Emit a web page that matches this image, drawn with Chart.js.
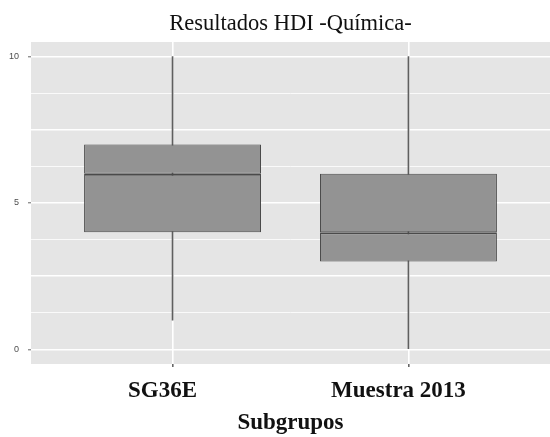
<!DOCTYPE html>
<html>
<head>
<meta charset="utf-8">
<script src="https://cdn.jsdelivr.net/npm/chart.js@4.4.1/dist/chart.umd.min.js"></script>
<style>
  body { margin: 0; background: #fff; }
  #wrap { width: 550px; height: 437px; }
</style>
</head>
<body>
<div id="wrap"><canvas id="chart" width="550" height="437"></canvas></div>
<script>
  // boxplot summary per subgroup
  const categories = ["SG36E", "Muestra 2013"];
  const mins    = [1, 0];
  const q1s     = [4, 3];
  const medians = [6, 4];
  const q3s     = [7, 6];
  const maxs    = [10, 10];

  const yGridValues  = [0, 1.25, 2.5, 3.75, 5, 6.25, 7.5, 8.75, 10];
  const yLabelValues = [0, 5, 10];

  const xPos = categories.map((c, i) => i + 1);

  const panelBg = {
    id: "panelBg",
    beforeDraw(chart) {
      const { ctx, chartArea: a } = chart;
      ctx.save();
      ctx.fillStyle = "#e5e5e5";
      ctx.fillRect(a.left, a.top, a.right - a.left, a.bottom - a.top);
      ctx.restore();
    }
  };

  const boxStyle = {
    backgroundColor: "#939393",
    borderColor: "#4a4a4a",
    borderSkipped: false,
    grouped: false,
    categoryPercentage: 1,
    barPercentage: 0.75
  };

  const chart = new Chart(document.getElementById("chart").getContext("2d"), {
    type: "bar",
    data: {
      datasets: [
        // lower half of box, thicker top edge = median
        { label: "lower", data: xPos.map((x, i) => ({ x: x, y: [q1s[i], medians[i]] })), order: 1, ...boxStyle,
          borderWidth: { top: 2, left: 1, right: 1, bottom: 1 } },
        { label: "upper", data: xPos.map((x, i) => ({ x: x, y: [medians[i], q3s[i]] })), order: 2, ...boxStyle,
          borderWidth: { top: 1, left: 1, right: 1, bottom: 1 } },
        { label: "whisker", data: xPos.map((x, i) => ({ x: x, y: [mins[i], maxs[i]] })), order: 3,
          backgroundColor: "#5f5f5f", borderWidth: 0, barThickness: 1, grouped: false }
      ]
    },
    options: {
      responsive: false,
      animation: false,
      layout: { padding: 0 },
      plugins: {
        legend: { display: false },
        tooltip: { enabled: false },
        title: {
          display: true,
          text: "Resultados HDI -Química-",
          fullSize: false,
          color: "#111",
          font: { family: "'Liberation Serif', 'Times New Roman', serif", size: 22.5, weight: "normal", lineHeight: 1.2 },
          padding: { top: 11, bottom: 4 }
        }
      },
      scales: {
        x: {
          type: "linear",
          min: 0.4,
          max: 2.6,
          offset: false,
          afterFit: s => { s.height = 73; },
          afterBuildTicks: s => { s.ticks = xPos.map(v => ({ value: v })); },
          border: { display: false },
          grid: { offset: false, color: "#ffffff", lineWidth: 1.6, tickColor: "#666", tickLength: 3 },
          ticks: {
            callback: (v, i) => categories[i],
            color: "#111",
            padding: 10,
            labelOffset: -10,
            maxRotation: 0,
            font: { family: "'Liberation Serif', 'Times New Roman', serif", size: 23, weight: "bold" }
          },
          title: {
            display: true,
            text: "Subgrupos",
            color: "#111",
            padding: { top: 2, bottom: 0 },
            font: { family: "'Liberation Serif', 'Times New Roman', serif", size: 23, weight: "bold" }
          }
        },
        y: {
          min: -0.5,
          max: 10.5,
          afterFit: s => { s.width = 31; },
          afterBuildTicks: s => { s.ticks = yGridValues.map(v => ({ value: v })); },
          border: { display: false },
          grid: {
            color: "#ffffff",
            lineWidth: c => (c.tick && c.tick.value % 2.5 === 0) ? 1.6 : 0.8,
            tickColor: c => (c.tick && yLabelValues.includes(c.tick.value)) ? "#666" : "rgba(0,0,0,0)",
            tickWidth: 1,
            tickLength: 3
          },
          ticks: {
            callback: v => yLabelValues.includes(v) ? String(v) : "",
            color: "#4d4d4d",
            padding: 9,
            font: { family: "'Liberation Sans', Arial, sans-serif", size: 9 }
          }
        }
      }
    },
    plugins: [panelBg]
  });
</script>
</body>
</html>
